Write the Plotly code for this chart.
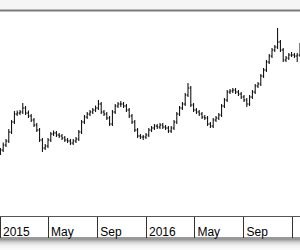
import pandas as pd
import plotly.graph_objects as go

open_ = [19.4, 20.0, 21.0, 21.8, 23.6, 25.6, 27.2, 27.4, 27.6, 28.4, 27.4, 26.8, 26.0, 25.0, 24.0, 22.0,
         20.4, 20.8, 22.0, 23.2, 23.4, 23.0, 22.8, 22.4, 22.0, 21.8, 21.4, 21.8, 22.2, 23.6, 25.6, 26.6,
         27.2, 27.6, 28.0, 28.4, 29.2, 27.6, 27.2, 26.4, 25.2, 27.6, 28.8, 29.2, 29.2, 28.8, 28.0, 26.8,
         25.6, 24.0, 22.8, 22.6, 22.6, 23.0, 24.0, 24.4, 24.8, 24.6, 25.0, 24.6, 24.4, 23.8, 24.4, 25.6,
         27.2, 28.4, 29.2, 31.0, 32.4, 29.0, 28.0, 27.6, 27.2, 26.6, 26.4, 25.2, 24.8, 26.0, 26.4, 27.0,
         28.8, 30.0, 31.6, 31.8, 32.0, 31.6, 31.2, 30.6, 30.0, 29.2, 30.6, 31.6, 32.8, 33.2, 34.8, 36.0,
         37.6, 38.8, 40.0, 40.6, 41.6, 40.0, 38.0, 38.4, 39.0, 39.0, 38.8, 39.0]
high = [20.4, 21.5, 22.2, 24.2, 26.0, 27.8, 27.9, 28.0, 29.4, 28.8, 27.9, 27.2, 26.4, 25.4, 24.4, 22.4,
        21.2, 22.4, 23.6, 23.9, 23.8, 23.4, 23.2, 22.8, 22.4, 22.2, 22.2, 22.6, 24.0, 26.0, 27.0, 27.6,
        28.0, 28.4, 28.9, 30.0, 29.6, 28.0, 27.6, 26.8, 28.0, 29.2, 29.6, 29.8, 29.6, 29.2, 28.4, 27.2,
        26.0, 24.4, 23.2, 23.0, 23.4, 24.4, 24.8, 25.2, 25.2, 25.4, 25.4, 25.0, 24.8, 24.8, 26.0, 27.6,
        28.8, 29.6, 31.4, 33.4, 32.8, 29.4, 28.4, 28.0, 27.6, 27.0, 26.8, 25.6, 26.4, 26.8, 27.4, 29.2,
        30.4, 32.0, 32.2, 32.4, 32.4, 32.0, 31.6, 31.0, 30.4, 31.0, 32.0, 33.2, 33.6, 35.2, 36.4, 38.0,
        39.2, 40.4, 41.0, 44.4, 42.0, 40.4, 38.8, 39.4, 39.6, 39.4, 39.4, 41.4]
low = [19.0, 19.6, 20.6, 21.4, 23.2, 25.2, 26.8, 27.0, 27.2, 27.0, 26.4, 25.6, 24.6, 23.6, 21.6, 19.6,
       20.0, 20.4, 21.6, 22.8, 22.6, 22.4, 22.0, 21.6, 21.4, 21.0, 21.0, 21.4, 21.8, 23.2, 25.2, 26.2,
       26.8, 27.2, 27.6, 28.0, 27.2, 26.8, 26.0, 24.8, 24.8, 27.2, 28.4, 28.6, 28.4, 27.6, 26.4, 25.2,
       23.6, 22.4, 22.2, 22.0, 22.2, 22.6, 23.6, 24.0, 24.2, 24.2, 24.2, 24.0, 23.4, 23.4, 24.0, 25.2,
       26.8, 28.0, 28.8, 30.6, 28.6, 27.6, 27.2, 26.8, 26.2, 26.0, 24.8, 24.4, 24.4, 25.6, 26.0, 26.6,
       28.4, 29.6, 31.2, 31.4, 31.2, 30.8, 30.2, 29.6, 28.6, 28.8, 30.2, 31.2, 32.4, 32.8, 34.4, 35.6,
       37.2, 38.4, 39.6, 40.2, 39.6, 37.6, 37.6, 38.0, 38.6, 38.4, 37.6, 38.6]
close = [20.0, 21.0, 21.8, 23.6, 25.6, 27.2, 27.4, 27.6, 28.4, 27.4, 26.8, 26.0, 25.0, 24.0, 22.0, 20.4,
         20.8, 22.0, 23.2, 23.4, 23.0, 22.8, 22.4, 22.0, 21.8, 21.4, 21.8, 22.2, 23.6, 25.6, 26.6, 27.2,
         27.6, 28.0, 28.4, 29.2, 27.6, 27.2, 26.4, 25.2, 27.6, 28.8, 29.2, 29.2, 28.8, 28.0, 26.8, 25.6,
         24.0, 22.8, 22.6, 22.6, 23.0, 24.0, 24.4, 24.8, 24.6, 25.0, 24.6, 24.4, 23.8, 24.4, 25.6, 27.2,
         28.4, 29.2, 31.0, 32.4, 29.0, 28.0, 27.6, 27.2, 26.6, 26.4, 25.2, 24.8, 26.0, 26.4, 27.0, 28.8,
         30.0, 31.6, 31.8, 32.0, 31.6, 31.2, 30.6, 30.0, 29.2, 30.6, 31.6, 32.8, 33.2, 34.8, 36.0, 37.6,
         38.8, 40.0, 40.6, 41.6, 40.0, 38.0, 38.4, 39.0, 39.0, 38.8, 39.0, 40.8]
dates = pd.date_range("2015-01-02", periods=len(close), freq="7D")

tick_vals = ["2015-01-01", "2015-05-01", "2015-09-01", "2016-01-01", "2016-05-01", "2016-09-01", "2017-01-01"]
tick_text = ["2015", "May", "Sep", "2016", "May", "Sep", "2017"]

fig = go.Figure(go.Ohlc(
    x=dates, open=open_, high=high, low=low, close=close,
    increasing=dict(line=dict(color="black", width=1)),
    decreasing=dict(line=dict(color="black", width=1)),
    tickwidth=0.4, hoverinfo="skip",
))

H = 204.0
def py(pix):
    return 1 + (12 - pix) / H

shapes = [
    dict(type="rect", xref="paper", yref="paper", x0=0, x1=1, y0=py(9), y1=py(0),
         fillcolor="#f5f5f5", line=dict(width=0), layer="below"),
    dict(type="line", xref="paper", yref="paper", x0=0, x1=1, y0=py(10.5), y1=py(10.5),
         line=dict(color="#7a7a7a", width=2)),
    dict(type="line", xref="paper", yref="paper", x0=0, x1=1, y0=py(238), y1=py(238),
         line=dict(color="#333333", width=1)),
]
greys = ["#9a9a9a", "#b0b0b0", "#c4c4c4", "#d4d4d4", "#e0e0e0", "#e9e9e9", "#efefef", "#f3f3f3",
         "#f6f6f6", "#f8f8f8", "#fafafa", "#fbfbfb"]
for k, g in enumerate(greys):
    shapes.append(dict(type="rect", xref="paper", yref="paper", x0=0, x1=1,
                       y0=py(239 + k + 1), y1=py(239 + k), fillcolor=g, line=dict(width=0)))

fig.update_layout(
    width=300, height=250,
    margin=dict(l=0, r=0, t=12, b=34),
    paper_bgcolor="white", plot_bgcolor="white",
    showlegend=False,
    shapes=shapes,
    xaxis=dict(
        type="date", range=["2015-01-01", "2017-01-20"],
        rangeslider=dict(visible=False),
        tickvals=tick_vals, ticktext=tick_text,
        ticks="outside", ticklen=21, tickcolor="#333333", tickwidth=1,
        ticklabelposition="outside right", ticklabelstandoff=5, ticklabelshift=2,
        showline=True, linecolor="#555555", linewidth=1,
        showgrid=False, zeroline=False,
        tickfont=dict(family="Liberation Sans", size=12, color="black"),
    ),
    yaxis=dict(range=[6.8, 47.6], visible=False, showgrid=False, zeroline=False),
)

fig.write_html("out.html")
